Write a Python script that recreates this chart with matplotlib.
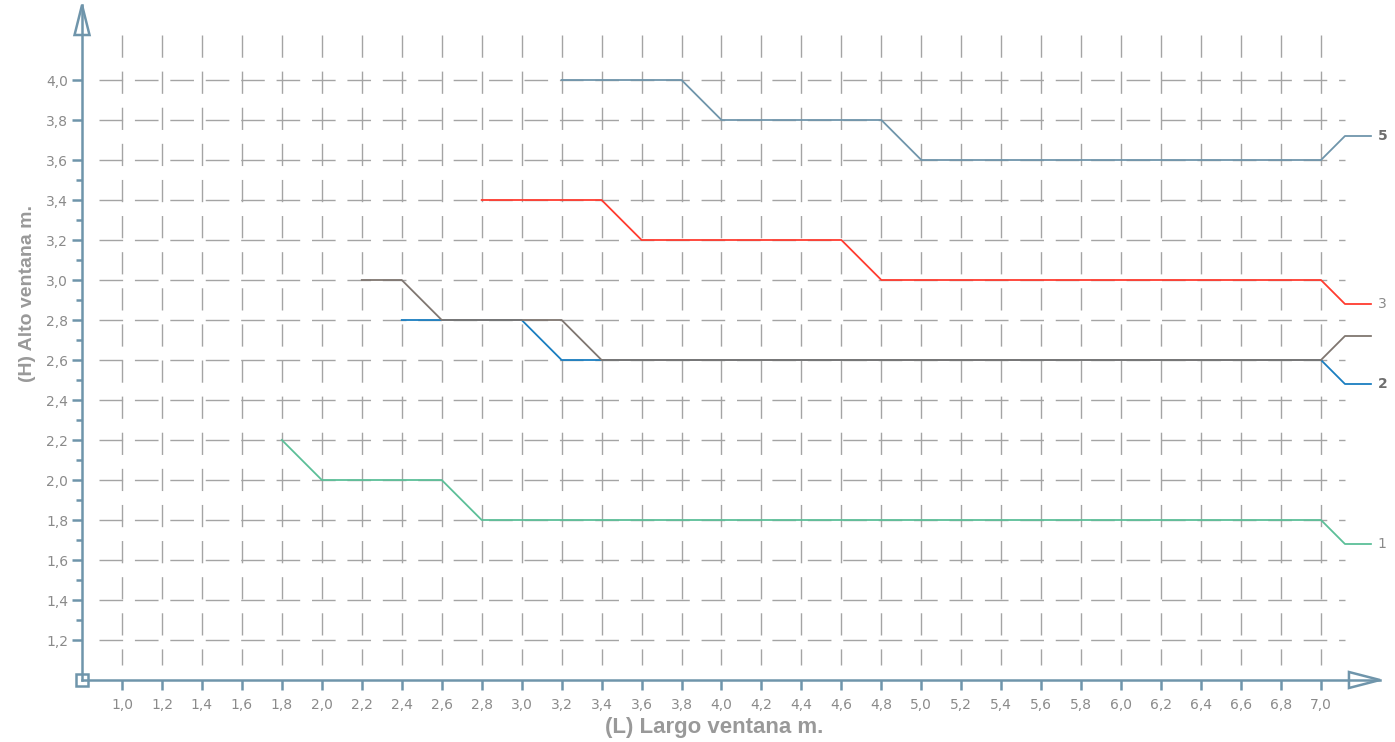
import numpy as np
import matplotlib.pyplot as plt
from matplotlib.patches import Polygon, Rectangle

# data: breakpoints of each series (L, H)
s5_x = [3.2, 3.8, 4.0, 4.8, 5.0, 7.0, 7.12, 7.25]
s5_y = [4.0, 4.0, 3.8, 3.8, 3.6, 3.6, 3.72, 3.72]
s3_x = [2.8, 3.4, 3.6, 4.6, 4.8, 7.0, 7.12, 7.25]
s3_y = [3.4, 3.4, 3.2, 3.2, 3.0, 3.0, 2.88, 2.88]
s4_x = [2.2, 2.4, 2.6, 3.2, 3.4, 7.0, 7.12, 7.25]
s4_y = [3.0, 3.0, 2.8, 2.8, 2.6, 2.6, 2.72, 2.72]
s2_x = [2.4, 3.0, 3.2, 7.0, 7.12, 7.25]
s2_y = [2.8, 2.8, 2.6, 2.6, 2.48, 2.48]
s1_x = [1.8, 2.0, 2.6, 2.8, 7.0, 7.12, 7.25]
s1_y = [2.2, 2.0, 2.0, 1.8, 1.8, 1.68, 1.68]

x_ticks = [1.0, 1.2, 1.4, 1.6, 1.8, 2.0, 2.2, 2.4, 2.6, 2.8, 3.0, 3.2, 3.4, 3.6, 3.8, 4.0,
           4.2, 4.4, 4.6, 4.8, 5.0, 5.2, 5.4, 5.6, 5.8, 6.0, 6.2, 6.4, 6.6, 6.8, 7.0]
y_ticks = [1.2, 1.4, 1.6, 1.8, 2.0, 2.2, 2.4, 2.6, 2.8, 3.0, 3.2, 3.4, 3.6, 3.8, 4.0]
y_minor = [1.3, 1.5, 1.7, 1.9, 2.1, 2.3, 2.5, 2.7, 2.9, 3.1, 3.3, 3.5]

axis_c = "#6f95ab"
text_c = "#8a8a8a"
grid_c = "#a4a4a4"

fig = plt.figure(figsize=(13.95, 7.42), dpi=100)
ax = fig.add_axes([0, 0, 1, 1])
ax.set_xlim(0.3895, 7.3704)
ax.set_ylim(0.69, 4.4)

# dashed grid
ax.hlines(y_ticks, 0.885, 7.12, colors=grid_c, lw=1, linestyles=(0, (17, 8.5)), zorder=1)
ax.vlines(x_ticks, 4.225, 1.075, colors=grid_c, lw=1, linestyles=(0, (16, 10)), zorder=1)

# series
ax.plot(s5_x, s5_y, color="#6f95ab", lw=1.3, zorder=3)
ax.plot(s3_x, s3_y, color="#ff3b2f", lw=1.3, zorder=3)
ax.plot(s2_x, s2_y, color="#1a7ec0", lw=1.3, zorder=3)
ax.plot(s4_x, s4_y, color="#7f7670", lw=1.3, zorder=4)
ax.plot(s1_x, s1_y, color="#5cbf98", lw=1.3, zorder=3)

ax.text(7.285, s5_y[-1], "5", color="#6e6e6e", fontsize=10, fontweight="bold", va="center")
ax.text(7.285, s3_y[-1], "3", color=text_c, fontsize=10, va="center")
ax.text(7.285, s2_y[-1], "2", color="#6e6e6e", fontsize=10, fontweight="bold", va="center")
ax.text(7.285, s1_y[-1], "1", color=text_c, fontsize=10, va="center")

# axes
for s in ["top", "right"]:
    ax.spines[s].set_visible(False)
ax.spines["left"].set_position(("data", 0.8))
ax.spines["left"].set_bounds(1.0, 4.375)
ax.spines["bottom"].set_position(("data", 1.0))
ax.spines["bottom"].set_bounds(0.8, 7.295)
for s in ["left", "bottom"]:
    ax.spines[s].set_color(axis_c)
    ax.spines[s].set_linewidth(1.8)
    ax.spines[s].set_zorder(5)

ax.set_xticks(x_ticks)
ax.set_xticklabels([f"{v:.1f}".replace(".", ",") for v in x_ticks])
ax.set_yticks(y_ticks)
ax.set_yticklabels([f"{v:.1f}".replace(".", ",") for v in y_ticks])
ax.set_yticks(y_minor, minor=True)
ax.tick_params(axis="both", which="major", direction="out", length=7, width=1.8,
               color=axis_c, labelcolor=text_c, labelsize=10, pad=3)
ax.tick_params(axis="y", which="minor", direction="out", length=4, width=1.8, color=axis_c)
ax.tick_params(axis="x", pad=6)

# arrows and origin box
ax.add_patch(Polygon([[0.8, 4.375], [0.7625, 4.225], [0.8375, 4.225]], closed=True,
                     fill=False, edgecolor=axis_c, lw=1.8, zorder=6))
ax.add_patch(Polygon([[7.295, 1.0], [7.14, 1.04], [7.14, 0.96]], closed=True,
                     fill=False, edgecolor=axis_c, lw=1.8, zorder=6))
ax.add_patch(Rectangle((0.77, 0.97), 0.06, 0.06, fill=False, edgecolor=axis_c, lw=1.8, zorder=6))

fig.text(714 / 1395, 1 - 727 / 742, "(L) Largo ventana m.", color="#999999", fontsize=16,
         fontweight="bold", family="Liberation Sans", ha="center", va="center")
fig.text(28 / 1395, 1 - 293 / 742, "(H) Alto ventana m.", color="#999999", fontsize=14,
         fontweight="bold", family="Liberation Sans", ha="center", va="center", rotation=90)

fig.savefig("out.png", dpi=100)
